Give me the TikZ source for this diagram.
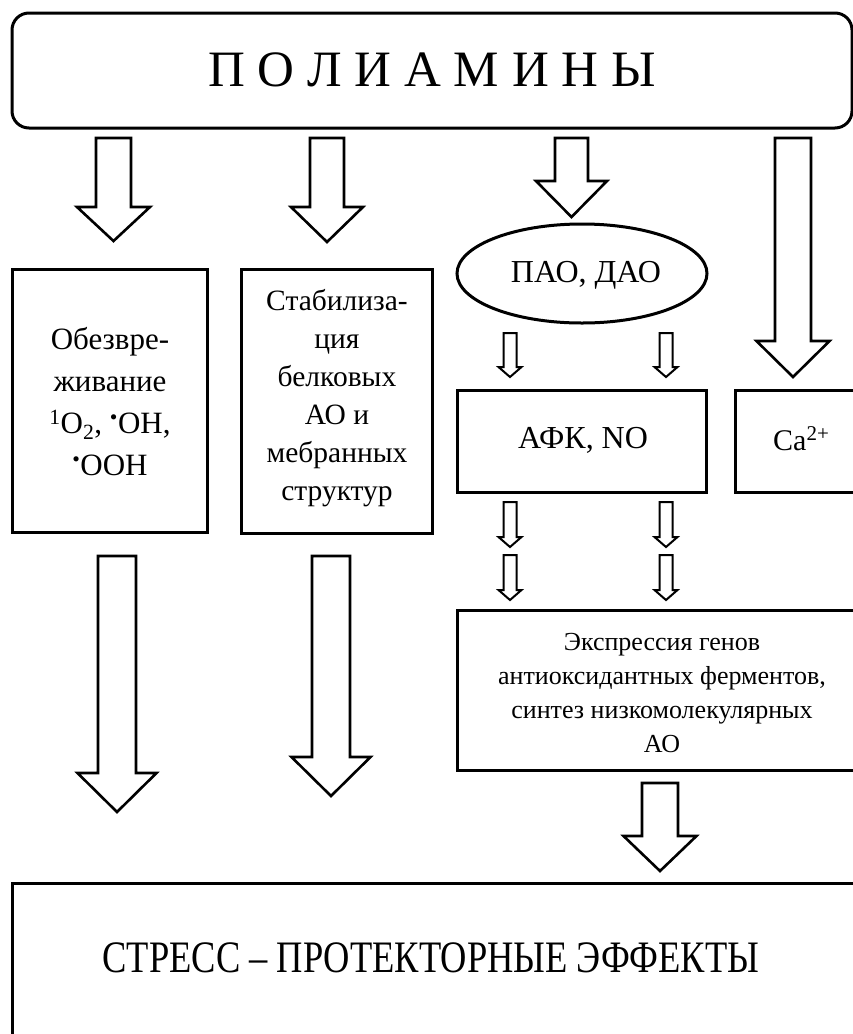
\documentclass[tikz,border=0pt]{standalone}
\usepackage{fontspec}
\setmainfont{Liberation Serif}
\usetikzlibrary{shapes.geometric}
\tikzset{
  box/.style={draw, line width=3pt, inner sep=0pt},
  lbl/.style={inner sep=0pt, align=center},
  barrow/.style={draw, line width=2.6pt, fill=white, line join=miter},
  sarrow/.style={draw, line width=2pt, fill=white, line join=miter},
}
% style, x, top, head, tip, shaft half width, head half width
\newcommand\blockarr[7][barrow]{%
  \draw[#1] (#2-#6,#3) -- (#2+#6,#3) -- (#2+#6,#4) -- (#2+#7,#4) -- (#2,#5)
    -- (#2-#7,#4) -- (#2-#6,#4) -- cycle;}
\begin{document}
\begin{tikzpicture}[x=1pt,y=-1pt]
\useasboundingbox (0,0) rectangle (853,1034);
\clip (0,0) rectangle (853,1034);
\fill[white] (0,0) rectangle (853,1034);

% top box
\node[box, rounded corners=17pt, minimum width=840, minimum height=115] (top) at (432,70.5) {};
\node[lbl, font=\fontsize{51}{60}\selectfont] (toptxt) at (432,70) {П О Л И А М И Н Ы};

% first row arrows
\blockarr{113.5}{138}{207}{241}{17.5}{36.5}
\blockarr{327}{138}{207}{242}{17}{36}
\blockarr{571.5}{138}{181}{217}{16.5}{35.5}
\blockarr{793}{138}{341}{377}{18}{36.5}

% boxes
\node[box, minimum width=195, minimum height=263] (b1) at (109.5,400.5) {};
\node[lbl, font=\fontsize{31}{42}\selectfont] (b1t) at (110,402) {Обезвре-\\живание\\\textsuperscript{1}O\textsubscript{2}, \textsuperscript{•}OH,\\\textsuperscript{•}OOH};
\node[box, minimum width=191, minimum height=264] (b2) at (336.5,401) {};
\node[lbl, font=\fontsize{29.5}{38}\selectfont] (b2t) at (337,398) {Стабилиза-\\ция\\белковых\\АО и\\мебранных\\структур};

\node[box, ellipse, minimum width=250, minimum height=99] (pao) at (582,273.5) {};
\node[lbl, font=\fontsize{32}{34}\selectfont] (paot) at (586,275) {ПАО, ДАО};

\blockarr[sarrow]{510}{333}{367}{377}{6.5}{11.5}
\blockarr[sarrow]{666}{333}{367}{377}{6.5}{11.5}

\node[box, minimum width=249, minimum height=102] (afk) at (581.5,441) {};
\node[lbl, font=\fontsize{32}{34}\selectfont] (afkt) at (583,440) {АФК, NO};
\node[box, minimum width=165, minimum height=102] (ca) at (817.5,441) {};
\node[lbl, font=\fontsize{30}{34}\selectfont, anchor=base west] (cat) at (773,450) {Ca\textsuperscript{2+}};

\blockarr[sarrow]{510}{502}{537}{547}{6.5}{11.5}
\blockarr[sarrow]{666}{502}{537}{547}{6.5}{11.5}
\blockarr[sarrow]{510}{555}{590}{600}{6.5}{11.5}
\blockarr[sarrow]{666}{555}{590}{600}{6.5}{11.5}

\node[box, minimum width=443, minimum height=160] (expr) at (678.5,690) {};
\node[lbl, font=\fontsize{26}{34}\selectfont] (exprt) at (662,693) {Экспрессия генов\\антиоксидантных ферментов,\\синтез низкомолекулярных\\АО};

% long arrows
\blockarr{117}{556}{773}{812}{19}{39.5}
\blockarr{331}{556}{757}{796}{19}{39.5}
\blockarr{660}{783}{836}{871}{18}{36.5}

% bottom box
\node[box, minimum width=868, minimum height=200] (bot) at (446,983) {};
\node[lbl, font=\fontsize{45}{50}\selectfont] (bott) at (431,958) {\scalebox{0.81}[1]{СТРЕСС – ПРОТЕКТОРНЫЕ ЭФФЕКТЫ}};
\end{tikzpicture}
\end{document}
